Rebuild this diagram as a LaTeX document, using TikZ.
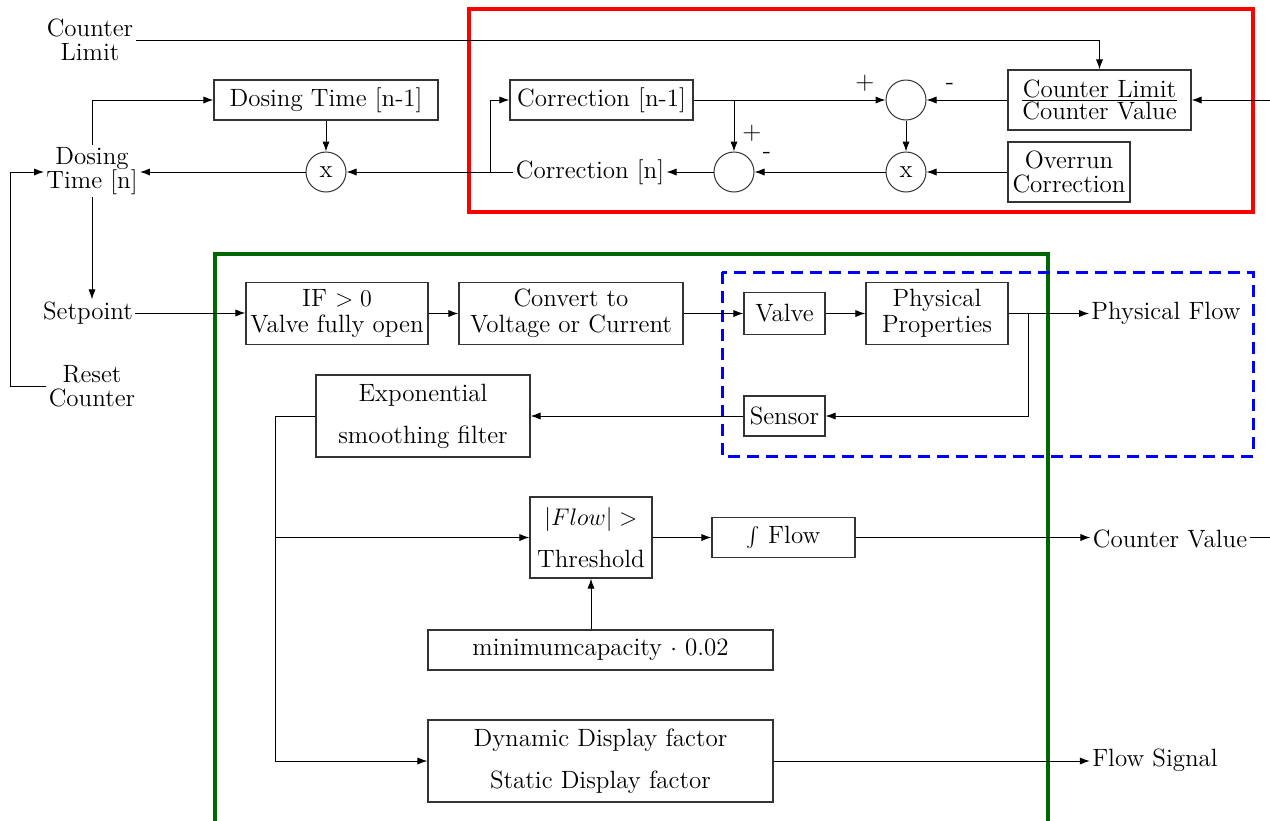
\documentclass[tikz,border=0pt]{standalone}
\usetikzlibrary{arrows.meta}
\begin{document}
\begin{tikzpicture}[x=0.5pt,y=-0.5pt,
  every node/.style={font=\fontsize{12.5}{13}\selectfont},
  blk/.style={draw=black!80,line width=0.6pt,inner sep=0pt,align=center},
  txt/.style={inner sep=1pt,align=center},
  tight/.style={font=\fontsize{12.5}{12}\selectfont},
  mid/.style={font=\fontsize{12.5}{13}\selectfont},
  wide/.style={font=\fontsize{12.5}{21}\selectfont},
  circ/.style={draw=black!80,line width=0.5pt,circle,minimum size=20pt,inner sep=0pt},
  arr/.style={-{Latex[length=5pt,width=3.6pt]},line width=0.5pt},
  ln/.style={line width=0.5pt}]
\clip (0,0) rectangle (1270,820);
\fill[white] (0,0) rectangle (1270,820);

% frames
\draw[red,line width=1.6pt] (469,9) rectangle (1253,212);
\draw[green!40!black,line width=1.6pt] (215,254) rectangle (1048,840);
\draw[blue,line width=1.5pt,dash pattern=on 6pt off 3.5pt] (722,272) rectangle (1253,456);

% top part
\node[txt,tight] (CL) at (90,40) {Counter\\Limit};
\node[txt,tight] (DTn) at (92,171) {Dosing\\Time [n]};
\node[blk,minimum width=112pt,minimum height=20pt] (dn1) at (326,100) {Dosing Time [n-1]};
\node[circ] (x1) at (326,172) {x};
\node[txt] (corrn) at (590,172) {Correction [n]};
\node[blk,minimum width=91.5pt,minimum height=20pt] (corr1) at (601.5,100) {Correction [n-1]};
\node[circ] (sum1) at (906,100) {};
\node[circ] (x2) at (906,172) {x};
\node[circ] (sum2) at (734,172) {};
\node[blk,minimum width=91.5pt,minimum height=30pt] (clcv) at (1099.5,100)
  {$\textstyle\frac{\mbox{Counter Limit}}{\mbox{Counter Value}}$};
\node[blk,tight,minimum width=61pt,minimum height=30pt] (over) at (1069,172) {Overrun\\Correction};
\node[inner sep=0pt] (p1) at (865,83) {+};
\node[inner sep=0pt] (m1) at (950,86) {-};
\node[inner sep=0pt] (p2) at (752,133) {+};
\node[inner sep=0pt] (m2) at (767,155) {-};
\coordinate (rin) at (1270,100);
\coordinate (b1) at (734,100);
\coordinate (b2) at (490,172);

\draw[arr] (CL.east) -| (clcv.north);
\draw[arr] (rin) -- (clcv.east);
\draw[arr] (clcv.west) -- (sum1.east);
\draw[arr] (corr1.east) -- (sum1.west);
\draw[arr] (b1) -- (sum2.north);
\draw[arr] (sum1.south) -- (x2.north);
\draw[arr] (over.west) -- (x2.east);
\draw[arr] (x2.west) -- (sum2.east);
\draw[arr] (sum2.west) -- (corrn.east);
\draw[arr] (corrn.west) -- (x1.east);
\draw[arr] (b2) |- (corr1.west);
\draw[arr] (dn1.south) -- (x1.north);
\draw[arr] (x1.west) -- (x1.west -| DTn.east);
\draw[arr] (DTn.north) |- (dn1.west);

% left column
\node[txt] (sp) at (88,313) {Setpoint};
\node[txt,tight] (rst) at (92,386) {Reset\\Counter};
\coordinate (rc) at (10,386);
\draw[arr] (DTn.south) -- (DTn.south |- sp.north);
\draw[arr] (rst.west) -- (rc) |- (x1.west -| DTn.west);

% green part
\node[blk,mid,minimum width=91pt,minimum height=31pt] (ifb) at (337,313.5) {IF $>0$\\Valve fully open};
\node[blk,mid,minimum width=112pt,minimum height=31pt] (conv) at (571,313.5) {Convert to\\Voltage or Current};
\node[blk,minimum width=40.5pt,minimum height=21pt] (valve) at (784.5,313.5) {Valve};
\node[blk,mid,minimum width=71pt,minimum height=31pt] (pp) at (937,313.5) {Physical\\Properties};
\node[blk,minimum width=40.5pt,minimum height=20pt] (sens) at (784.5,416) {Sensor};
\node[txt] (pf) at (1166,313.5) {Physical Flow};
\node[blk,wide,minimum width=107pt,minimum height=41pt] (expf) at (423,416) {Exponential\\smoothing filter};
\node[blk,wide,minimum width=61pt,minimum height=40.5pt] (thr) at (591,537.5) {$|Flow|>$\\Threshold};
\node[blk,minimum width=71.5pt,minimum height=20pt] (intf) at (783.5,537.5) {$\int$ Flow};
\node[txt] (cv) at (1170,538.5) {Counter Value};
\node[blk,minimum width=172.5pt,minimum height=20pt] (minc) at (600.5,650) {minimumcapacity $\cdot$ 0.02};
\node[blk,wide,minimum width=172.5pt,minimum height=41pt] (dyn) at (600.5,761) {Dynamic Display factor\\Static Display factor};
\node[txt] (fs) at (1155,760) {Flow Signal};
\coordinate (b3) at (1028,313.5);
\coordinate (b4) at (275,416);
\coordinate (b5) at (275,537.5);
\coordinate (cvr) at (1270,537.5);

\draw[arr] (sp.east) -- (sp.east -| ifb.west);
\draw[arr] (ifb.east) -- (conv.west);
\draw[arr] (conv.east) -- (valve.west);
\draw[arr] (valve.east) -- (pp.west);
\draw[arr] (pp.east) -- (pf.west);
\draw[arr] (b3) |- (sens.east);
\draw[arr] (sens.west) -- (expf.east);
\draw[arr] (expf.west) -- (b4) |- (dyn.west);
\draw[arr] (b5) -- (thr.west);
\draw[arr] (thr.east) -- (intf.west);
\draw[arr] (intf.east) -- (intf.east -| cv.west);
\draw[ln] (intf.east -| cv.east) -- (cvr);
\draw[arr] (thr.south |- minc.north) -- (thr.south);
\draw[arr] (dyn.east) -- (dyn.east -| fs.west);
\end{tikzpicture}
\end{document}
